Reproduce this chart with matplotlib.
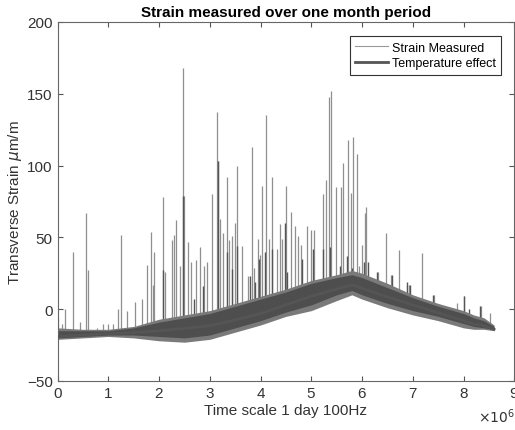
#!/usr/bin/env python3
"""Strain measured over one month period (MATLAB style grey line chart)."""
import numpy as np
import matplotlib
matplotlib.use("Agg")
import matplotlib.pyplot as plt
from matplotlib.ticker import ScalarFormatter

plt.rcParams["font.family"] = ["Liberation Sans", "DejaVu Sans"]

# spikes of the measured signal: time (x1e6 samples) and peak strain (um/m)
SPIKE_T = [0.00, 0.08, 0.15, 0.31, 0.45, 0.57, 0.61, 0.77, 0.90, 1.00, 1.10, 1.19,
           1.26, 1.36, 1.53, 1.66, 1.77, 1.85, 1.88, 1.91, 2.07, 2.12, 2.25, 2.30,
           2.34, 2.41, 2.48, 2.50, 2.58, 2.63, 2.72, 2.81, 2.89, 2.94, 3.04, 3.15,
           3.17, 3.20, 3.27, 3.33, 3.37, 3.43, 3.50, 3.54, 3.64, 3.76, 3.84, 3.88,
           3.94, 3.99, 4.02, 4.11, 4.17, 4.22, 4.32, 4.38, 4.42, 4.50, 4.60, 4.67,
           4.73, 4.80, 4.91, 4.99, 5.05, 5.24, 5.29, 5.34, 5.39, 5.49, 5.58, 5.62,
           5.72, 5.78, 5.82, 5.90, 5.93, 5.99, 6.05, 6.07, 6.32, 6.47, 6.57, 6.72,
           6.88, 6.93, 7.19, 7.41, 7.87, 8.00, 8.34, 8.52]
SPIKE_PEAK = [-6, -10, 0, 40, -9, 67, 27, -13, -10, -10, -10, 0,
              52, -1, 5, 7, 31, 54, 17, 40, 78, 26, 48, 52,
              62, 30, 168, 79, 47, 33, 34, 43, 30, 33, 80, 137,
              103, 63, 53, 92, 48, 51, 60, 100, 44, 23, 113, 29,
              49, 38, 86, 135, 49, 92, 42, 59, 49, 86, 68, 58,
              51, 45, 58, 55, 55, 80, 90, 148, 152, 85, 85, 102,
              118, 81, 120, 108, 30, 45, 67, 71, 26, 53, 24, 41,
              17, 17, 39, 10, 4, 9, 2, -3]

# darker, shorter bursts standing out of the dense band
BURST_T = [2.08, 2.48, 2.68, 2.87, 3.17, 3.33, 3.43, 3.54, 3.79, 3.89, 3.96, 4.09,
           4.22, 4.48, 4.52, 4.81, 5.04, 5.24, 5.37, 5.57, 5.70, 5.80, 6.03, 6.12,
           6.29, 6.59, 6.88, 6.95, 7.40, 8.00, 8.10, 8.33]
BURST_PEAK = [27, 79, 7, 16, 103, 40, 28, 44, 23, 19, 35, 40,
              42, 60, 26, 35, 42, 42, 43, 30, 37, 29, 33, 33,
              26, 24, 19, 17, 10, 9, 0, 2]

# dense noise band of the measured signal (outer light part and dark core)
BAND_T = [0, 0.5, 1, 1.5, 2, 2.5, 3, 3.5, 4, 4.5, 5, 5.5, 5.8, 6, 6.5, 7, 7.5, 8, 8.2, 8.4, 8.6]
OUTER_HIGH = [-13, -14, -14, -12, -7, -4, -1, 4, 9, 14, 20, 24, 27, 25, 18, 10, 4, -1, -4, -6, -11]
OUTER_LOW = [-21, -20, -19, -20, -22, -23, -21, -16, -11, -5, -1, 6, 10, 7, 1, -4, -8, -13, -14, -14, -15]
CORE_HIGH = [-15, -15, -15, -13, -9, -6, -3, 2, 7, 12, 18, 22, 24, 22, 15, 8, 2, -3, -6, -8, -12]
CORE_LOW = [-20, -19, -18, -18, -19, -20, -18, -13, -8, -2, 3, 10, 13, 10, 4, -1, -5, -10, -12, -13, -14]

# temperature effect trend
TEMP_T = [0, 0.5, 1, 1.5, 2, 2.5, 3, 3.5, 4, 4.5, 5, 5.5, 5.8, 6, 6.5, 7, 7.5, 8, 8.2, 8.35, 8.6]
TEMP_STRAIN = [-19, -18, -17, -16.3, -15, -13.5, -11.5, -7.5, -3, 3, 9, 14, 17, 14.5, 8.5, 3,
               -2.5, -8, -10.5, -11, -14]

SCALE = 1e6


def main():
    fig = plt.figure(figsize=(5.15, 4.31), dpi=100)
    ax = fig.add_axes([0.1117, 0.1137, 0.887, 0.833])

    st = np.array(SPIKE_T) * SCALE
    base = np.interp(SPIKE_T, BAND_T, CORE_LOW)
    ax.vlines(st, base, SPIKE_PEAK, color="#8f8f8f", lw=0.9, zorder=1)
    bt = np.array(BURST_T) * SCALE
    bbase = np.interp(BURST_T, BAND_T, CORE_LOW)
    ax.vlines(bt, bbase, BURST_PEAK, color="#555555", lw=1.0, zorder=1.5)

    xb = np.array(BAND_T) * SCALE
    ax.fill_between(xb, OUTER_LOW, OUTER_HIGH, color="#7a7a7a", lw=0, zorder=2)
    ax.fill_between(xb, CORE_LOW, CORE_HIGH, color="#4e4e4e", lw=0, zorder=2.5)
    # legend proxy for the measured signal
    ax.plot([], [], color="#9a9a9a", lw=0.8, label="Strain Measured")
    ax.plot(np.array(TEMP_T) * SCALE, TEMP_STRAIN, color="#555555", lw=2.0,
            zorder=3, label="Temperature effect")

    ax.set_xlim(0, 9 * SCALE)
    ax.set_ylim(-50, 200)
    ax.set_xticks(np.arange(0, 10) * SCALE)
    ax.set_yticks([-50, 0, 50, 100, 150, 200])
    fmt = ScalarFormatter(useMathText=True)
    fmt.set_powerlimits((0, 0))
    ax.xaxis.set_major_formatter(fmt)
    ax.xaxis.get_offset_text().set_visible(False)
    fig.text(0.999, 0.012, r"$\times10^{6}$", ha="right", va="bottom",
             fontsize=10, color="#333333")

    ax.tick_params(direction="in", length=3.5, width=0.8, top=True, right=True,
                   labelsize=11, colors="#555555", labelcolor="#333333")
    for sp in ax.spines.values():
        sp.set_color("#666666")
        sp.set_linewidth(0.8)

    ax.set_title("Strain measured over one month period", fontsize=11,
                 fontweight="bold", pad=4)
    ax.set_xlabel("Time scale 1 day 100Hz", fontsize=11, color="#333333", labelpad=2)
    ax.set_ylabel(r"Transverse Strain $\mu$m/m", fontsize=11, color="#333333", labelpad=2)

    leg = ax.legend(loc="upper right", bbox_to_anchor=(0.9715, 0.961), fontsize=9,
                    fancybox=False, framealpha=1, edgecolor="#333333",
                    handlelength=2.6, borderpad=0.45, labelspacing=0.3,
                    handletextpad=0.3, borderaxespad=0)
    leg.get_frame().set_linewidth(0.8)

    fig.savefig("out.png", dpi=100, facecolor="white")


if __name__ == "__main__":
    main()
